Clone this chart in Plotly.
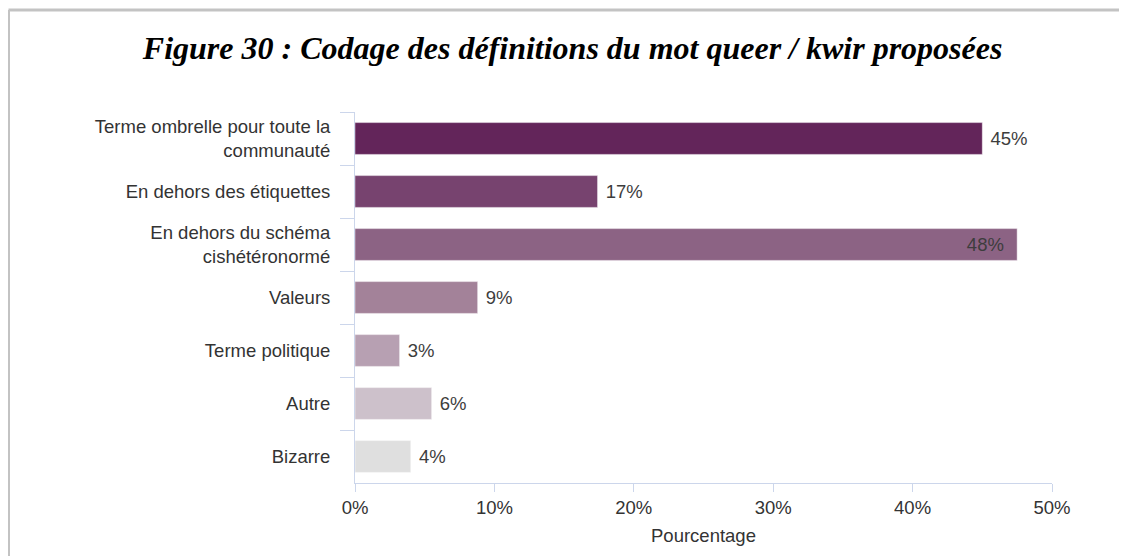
import plotly.graph_objects as go

categories = ["Terme ombrelle pour toute la<br>communauté",
              "En dehors des étiquettes",
              "En dehors du schéma<br>cishétéronormé",
              "Valeurs",
              "Terme politique",
              "Autre",
              "Bizarre"]
values = [45.0, 17.4, 47.5, 8.8, 3.2, 5.5, 4.0]
value_labels = ["45%", "17%", "48%", "9%", "3%", "6%", "4%"]
bar_colors = ["#63255A", "#77436F", "#8C6384", "#A38299", "#B7A0B2", "#CDC1CB", "#DFDFDF"]
x_ticks = [0, 10, 20, 30, 40, 50]
x_tick_labels = [f"{v}%" for v in x_ticks]

# page has an 8px body margin, so everything is placed 8px up/left
W, H = 1127, 556
L, R, T, B = 347, 83, 104, 81
axis_col = "#CCD6EB"
txt_col = "#333333"
fsize = 18.5

positions = ["outside", "outside", "inside", "outside", "outside", "outside", "outside"]
templates = [" %{text}" if p == "outside" else "%{text}\u00a0\u00a0" for p in positions]

fig = go.Figure(go.Bar(
    y=categories, x=values, orientation="h",
    marker=dict(color=bar_colors, line=dict(color="rgba(255,255,255,0.45)", width=1)),
    text=value_labels,
    texttemplate=templates,
    textposition=positions,
    insidetextanchor="end",
    textfont=dict(family="Liberation Sans", size=fsize, color="#3d3d3d"),
    insidetextfont=dict(family="Liberation Sans", size=fsize, color="#3d3d3d"),
    outsidetextfont=dict(family="Liberation Sans", size=fsize, color="#3d3d3d"),
    cliponaxis=False,
    hoverinfo="skip",
))

fig.update_layout(
    width=W, height=H,
    margin=dict(l=L, r=R, t=T, b=B),
    paper_bgcolor="white", plot_bgcolor="white",
    bargap=0.4,
    showlegend=False,
    title=dict(text="<b><i>Figure 30 : Codage des définitions du mot queer / kwir proposées</i></b>",
               x=0.501, xanchor="center", y=0.928, yanchor="middle",
               font=dict(family="Liberation Serif", size=32, color="black")),
    font=dict(family="Liberation Sans", size=fsize, color=txt_col),
)

fig.update_yaxes(
    autorange="reversed",
    showline=True, linecolor=axis_col, linewidth=1,
    ticks="outside", tickson="boundaries", ticklen=14, tickcolor=axis_col,
    showgrid=False, ticklabelstandoff=20,
    tickfont=dict(family="Liberation Sans", size=fsize, color=txt_col),
)
fig.update_xaxes(
    range=[0, 50], tickmode="array", tickvals=x_ticks, ticktext=x_tick_labels,
    showline=True, linecolor=axis_col, linewidth=1,
    ticks="outside", ticklen=8, tickcolor=axis_col,
    showgrid=False, zeroline=False,
    tickfont=dict(family="Liberation Sans", size=fsize, color=txt_col),
    title=dict(text="Pourcentage", standoff=11,
               font=dict(family="Liberation Sans", size=fsize, color=txt_col)),
)

# grey frame around the figure (top and left edges)
pw = W - L - R
ph = H - T - B
def px_x(p):
    return (p - L) / pw
def px_y(p):
    return 1 - (p - T) / ph

fig.add_shape(type="line", xref="paper", yref="paper",
              x0=px_x(0.5), x1=px_x(W + 5), y0=px_y(2), y1=px_y(2),
              line=dict(color="#C3C3C3", width=3))
fig.add_shape(type="line", xref="paper", yref="paper",
              x0=px_x(0.5), x1=px_x(0.5), y0=px_y(2), y1=px_y(H + 5),
              line=dict(color="#C3C3C3", width=3))

fig.write_html("out.html")
